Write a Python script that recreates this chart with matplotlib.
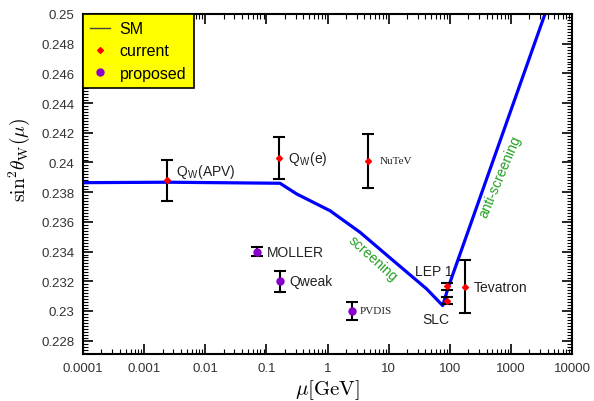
import matplotlib
matplotlib.use("Agg")
import matplotlib.pyplot as plt
from matplotlib.ticker import MultipleLocator, LogLocator, NullFormatter
from matplotlib.lines import Line2D
import numpy as np

plt.rcParams['mathtext.fontset'] = 'cm'

# SM running curve
sm_mu = [1e-4, 0.00237, 0.167, 0.313, 1.10, 3.40, 11.9, 42.0, 76.7, 94.7, 3614.0]
sm_s2w = [0.23864, 0.23867, 0.23860, 0.23788, 0.23675, 0.23530, 0.23339, 0.23148, 0.23036, 0.23160, 0.25]

# current measurements
cur_names = ["APV", "Qw(e)", "NuTeV", "LEP 1", "SLC", "Tevatron"]
cur_mu = [0.00237, 0.16, 4.57, 91.19, 91.19, 178.6]
cur_s2w = [0.2388, 0.2403, 0.2401, 0.23166, 0.23069, 0.23164]
cur_err = [0.0014, 0.0014, 0.0018, 0.00023, 0.00025, 0.0018]

# proposed measurements
prop_names = ["MOLLER", "Qweak", "PVDIS"]
prop_mu = [0.071, 0.17, 2.5]
prop_s2w = [0.2340, 0.2320, 0.2300]
prop_err = [0.0003, 0.0007, 0.0006]

xticks = [1e-4, 1e-3, 1e-2, 1e-1, 1, 10, 100, 1000, 10000]
xticklabels = ["0.0001", "0.001", "0.01", "0.1", "1", "10", "100", "1000", "10000"]
yticks = [0.228, 0.23, 0.232, 0.234, 0.236, 0.238, 0.24, 0.242, 0.244, 0.246, 0.248, 0.25]
yticklabels = ["0.228", "0.23", "0.232", "0.234", "0.236", "0.238", "0.24", "0.242",
               "0.244", "0.246", "0.248", "0.25"]

fig = plt.figure(figsize=(5.94, 4.02), dpi=100)
ax = fig.add_axes([83/594, 47/402, 489/594, 340/402])

ax.set_xscale('log')
ax.set_xlim(1e-4, 1e4)
ax.set_ylim(0.2271, 0.25)

ax.plot(sm_mu, sm_s2w, color='#0000ff', lw=2.3, zorder=2)

ax.errorbar(cur_mu, cur_s2w, yerr=cur_err, fmt='none', ecolor='black',
            elinewidth=1.5, capsize=4, capthick=1.5, zorder=3)
ax.plot(cur_mu, cur_s2w, 'D', color='#ff0000', ms=3, mec='#ff0000', zorder=4)
ax.errorbar(prop_mu, prop_s2w, yerr=prop_err, fmt='none', ecolor='black',
            elinewidth=1.5, capsize=4, capthick=1.5, zorder=3)
ax.plot(prop_mu, prop_s2w, 'o', color='#8800cc', ms=5, zorder=4)

sans = 'Liberation Sans'
serif = 'Liberation Serif'
tcol = '#222222'


def label(txt, x, y, dx, dy, fam=sans, size=10, ha='left', va='center'):
    ax.annotate(txt, (x, y), xytext=(dx, dy), textcoords='offset pixels',
                family=fam, fontsize=size, color=tcol, ha=ha, va=va)


label(r"Q$_{\mathregular{W}}$(APV)", cur_mu[0], cur_s2w[0], 9, 5, va='baseline')
label(r"Q$_{\mathregular{W}}$(e)", cur_mu[1], cur_s2w[1], 9, -3.5, va='baseline')
label("NuTeV", cur_mu[2], cur_s2w[2], 12, 0, fam=serif, size=8)
label("LEP 1", cur_mu[3], cur_s2w[3], 5, 15.5, ha='right')
label("SLC", cur_mu[4], cur_s2w[4], -11, -18, ha='center')
label("Tevatron", cur_mu[5], cur_s2w[5], 9, -0.5)
label("MOLLER", prop_mu[0], prop_s2w[0], 10, 0)
label("Qweak", prop_mu[1], prop_s2w[1], 9, 0)
label("PVDIS", prop_mu[2], prop_s2w[2], 8, 0, fam=serif, size=8)

ax.text(5.55, 0.23357, "screening", family=sans, fontsize=10, color='#22a022',
        rotation=-42, ha='center', va='center', rotation_mode='anchor')
ax.text(664, 0.23911, "anti-screening", family=sans, fontsize=10, color='#22a022',
        rotation=67, ha='center', va='center', rotation_mode='anchor')

ax.set_xticks(xticks)
ax.set_xticklabels(xticklabels)
ax.xaxis.set_minor_locator(LogLocator(base=10, subs=np.arange(2, 10), numticks=100))
ax.xaxis.set_minor_formatter(NullFormatter())
ax.set_yticks(yticks)
ax.set_yticklabels(yticklabels)
ax.yaxis.set_minor_locator(MultipleLocator(0.0002))

ax.tick_params(which='both', direction='in', top=True, right=True, colors='black',
               labelcolor='#333333')
ax.tick_params(which='major', length=7, width=1.2, labelsize=9.5, pad=6)
ax.tick_params(which='minor', length=3.5, width=0.8)
for lab in ax.get_xticklabels() + ax.get_yticklabels():
    lab.set_family(sans)
for s in ax.spines.values():
    s.set_linewidth(1.5)

ax.set_xlabel(r"$\mu[\mathrm{GeV}]$", fontsize=15, labelpad=2)
ax.set_ylabel(r"$\sin^2\!\theta_{\mathrm{W}}(\mu)$", fontsize=14)
ax.yaxis.set_label_coords(-0.105, 0.5735)

handles = [Line2D([], [], color='#444444', lw=1),
           Line2D([], [], ls='none', marker='D', color='#ff0000', ms=3),
           Line2D([], [], ls='none', marker='o', color='#8800cc', ms=5)]
leg = ax.legend(handles, ["SM", "current", "proposed"], loc='upper left',
                borderaxespad=0, fancybox=False, framealpha=1, facecolor='#ffff00',
                edgecolor='black', prop={'family': sans, 'size': 11.5},
                handlelength=1.25, handletextpad=0.6, labelspacing=0.45, borderpad=0.45)
leg.get_frame().set_linewidth(1.2)
leg.set_zorder(10)

fig.savefig("out.png", dpi=100)
